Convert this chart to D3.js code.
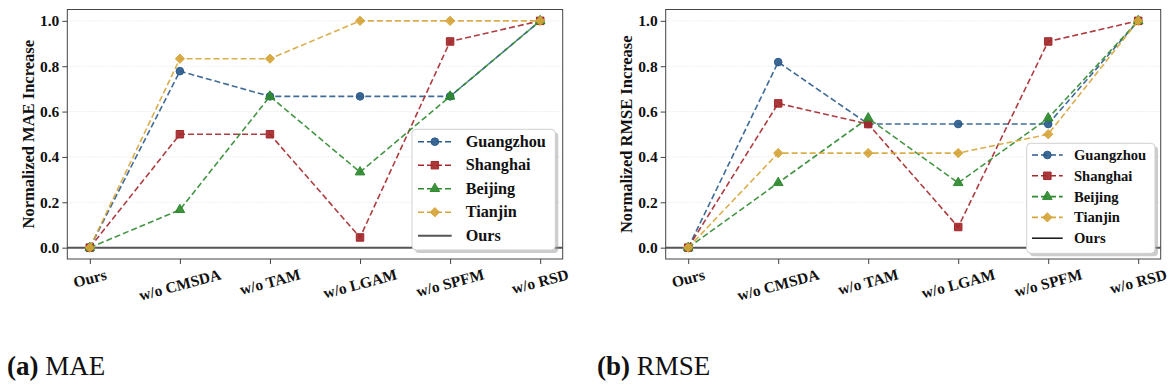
<!DOCTYPE html>
<html>
<head>
<meta charset="utf-8">
<script src="https://cdn.jsdelivr.net/npm/d3@7"></script>
<style>
  body { margin: 0; background: #fff; }
  text { font-family: "Liberation Serif", "Times New Roman", serif; }
</style>
</head>
<body>
<svg id="chart" width="1176" height="388"></svg>
<script>
// ablation variants (x axis)
var variants = ["Ours", "w/o CMSDA", "w/o TAM", "w/o LGAM", "w/o SPFM", "w/o RSD"];
var cities = ["Guangzhou", "Shanghai", "Beijing", "Tianjin"];
var yTicks = [0.0, 0.2, 0.4, 0.6, 0.8, 1.0];

// normalized MAE increase, one array per city
var maeGuangzhou = [0, 0.778, 0.667, 0.667, 0.667, 1.0];
var maeShanghai  = [0, 0.5, 0.5, 0.045, 0.909, 1.0];
var maeBeijing   = [0, 0.167, 0.667, 0.333, 0.667, 1.0];
var maeTianjin   = [0, 0.833, 0.833, 1.0, 1.0, 1.0];

// normalized RMSE increase
var rmseGuangzhou = [0, 0.818, 0.545, 0.545, 0.545, 1.0];
var rmseShanghai  = [0, 0.636, 0.545, 0.091, 0.909, 1.0];
var rmseBeijing   = [0, 0.286, 0.571, 0.286, 0.571, 1.0];
var rmseTianjin   = [0, 0.417, 0.417, 0.417, 0.5, 1.0];

var colors = {Guangzhou: "#2b5b8c", Shanghai: "#a3282b", Beijing: "#2f8a2f", Tianjin: "#d6a53a"};
var markers = {Guangzhou: "circle", Shanghai: "square", Beijing: "triangle", Tianjin: "diamond"};

var svg = d3.select("#chart");

function markerPath(kind) {
    if (kind == "circle") return d3.symbol().type(d3.symbolCircle).size(46)();
    if (kind == "square") return d3.symbol().type(d3.symbolSquare).size(56)();
    if (kind == "triangle") return d3.symbol().type(d3.symbolTriangle).size(40)();
    // matplotlib 'D' = rotated square
    var s = 4.6;
    return "M0," + (-s) + "L" + s + ",0L0," + s + "L" + (-s) + ",0Z";
}

function drawMarker(g, kind, x, y, col) {
    g.append("path")
        .attr("d", markerPath(kind))
        .attr("transform", "translate(" + x + "," + y + ")")
        .attr("fill", col)
        .attr("fill-opacity", 0.92)
        .attr("stroke", col)
        .attr("stroke-width", 1);
}

function drawPanel(opt) {
    var g = svg.append("g");
    var x = d3.scalePoint().domain(variants).range([opt.left, opt.right]).padding(0.25);
    var y = d3.scaleLinear().domain([-0.05, 1.05]).range([opt.bottom, opt.top]);

    // grid
    g.append("g").selectAll("line").data(yTicks).enter().append("line")
        .attr("x1", opt.left).attr("x2", opt.right)
        .attr("y1", function(d) { return y(d); })
        .attr("y2", function(d) { return y(d); })
        .attr("stroke", "#d8d8d8").attr("stroke-width", 0.8)
        .attr("stroke-dasharray", "1,2");

    // Ours baseline
    g.append("line")
        .attr("x1", opt.left).attr("x2", opt.right)
        .attr("y1", y(0)).attr("y2", y(0))
        .attr("stroke", "#555").attr("stroke-width", 2);

    var line = d3.line()
        .x(function(d, i) { return x(variants[i]); })
        .y(function(d) { return y(d); });

    cities.forEach(function(c) {
        var vals = opt.series[c];
        g.append("path")
            .attr("d", line(vals))
            .attr("fill", "none")
            .attr("stroke", colors[c])
            .attr("stroke-opacity", 0.9)
            .attr("stroke-width", 1.6)
            .attr("stroke-dasharray", "6,3");
        vals.forEach(function(v, i) {
            drawMarker(g, markers[c], x(variants[i]), y(v), colors[c]);
        });
    });

    // frame
    g.append("rect")
        .attr("x", opt.left).attr("y", opt.top)
        .attr("width", opt.right - opt.left).attr("height", opt.bottom - opt.top)
        .attr("fill", "none").attr("stroke", "#444").attr("stroke-width", 1);

    // y axis
    var yAxis = g.append("g")
        .attr("transform", "translate(" + opt.left + ",0)")
        .call(d3.axisLeft(y).tickValues(yTicks).tickFormat(d3.format(".1f")).tickSize(5).tickPadding(3));
    yAxis.select(".domain").remove();
    yAxis.selectAll("line").attr("stroke", "#444");
    yAxis.selectAll("text")
        .attr("font-family", "Liberation Serif")
        .attr("font-weight", "bold")
        .attr("font-size", 15.5)
        .attr("fill", "#111");

    // x axis
    var xAxis = g.append("g")
        .attr("transform", "translate(0," + opt.bottom + ")")
        .call(d3.axisBottom(x).tickSize(5).tickFormat(""));
    xAxis.select(".domain").remove();
    xAxis.selectAll("line").attr("stroke", "#444");

    var ang = 15 * Math.PI / 180;
    variants.forEach(function(v) {
        var t = g.append("text")
            .attr("font-weight", "bold")
            .attr("font-size", 15.5)
            .attr("fill", "#111")
            .attr("text-anchor", "middle")
            .attr("dominant-baseline", "central")
            .text(v);
        var L = t.node().getComputedTextLength();
        var h = 14;
        var cy = opt.bottom + 8 + (L * Math.sin(ang) + h * Math.cos(ang)) / 2;
        t.attr("transform", "translate(" + x(v) + "," + cy + ") rotate(-15)");
    });

    // y label
    g.append("text")
        .attr("transform", "translate(" + opt.labelX + "," + y(0.5) + ") rotate(-90)")
        .attr("text-anchor", "middle")
        .attr("dominant-baseline", "central")
        .attr("font-weight", "bold")
        .attr("font-size", opt.labelSize)
        .attr("fill", "#111")
        .text(opt.ylabel);

    // legend
    var lg = opt.legend;
    var lgG = g.append("g").attr("transform", "translate(" + lg.x + "," + lg.y + ")");
    lgG.append("rect")
        .attr("x", 3).attr("y", 3).attr("width", lg.w).attr("height", lg.h)
        .attr("rx", 4).attr("fill", "#999").attr("fill-opacity", 0.5);
    lgG.append("rect")
        .attr("width", lg.w).attr("height", lg.h)
        .attr("rx", 4).attr("fill", "#fff").attr("stroke", "#d0d0d0").attr("stroke-width", 1);
    var entries = cities.concat(["Ours"]);
    entries.forEach(function(c, i) {
        var ey = lg.first + i * lg.step;
        var x0 = lg.pad, x1 = lg.pad + lg.len;
        if (c == "Ours") {
            lgG.append("line").attr("x1", x0).attr("x2", x1).attr("y1", ey).attr("y2", ey)
                .attr("stroke", opt.oursLegend).attr("stroke-width", lg.oursW);
        } else {
            lgG.append("line").attr("x1", x0).attr("x2", x1).attr("y1", ey).attr("y2", ey)
                .attr("stroke", colors[c]).attr("stroke-width", 1.6)
                .attr("stroke-dasharray", "6,3");
            drawMarker(lgG, markers[c], (x0 + x1) / 2, ey, colors[c]);
        }
        lgG.append("text")
            .attr("x", lg.textX).attr("y", ey)
            .attr("dominant-baseline", "central")
            .attr("font-weight", "bold")
            .attr("font-size", lg.fontSize)
            .attr("fill", "#111")
            .text(c);
    });
}

drawPanel({
    left: 67.3, right: 562.7, top: 9.5, bottom: 259,
    series: {Guangzhou: maeGuangzhou, Shanghai: maeShanghai, Beijing: maeBeijing, Tianjin: maeTianjin},
    ylabel: "Normalized MAE Increase", labelX: 28, labelSize: 16.5,
    oursLegend: "#555",
    legend: {x: 412, y: 129.3, w: 143.3, h: 120.7, first: 12.4, step: 23.5, pad: 6, len: 33.7,
             textX: 53.7, fontSize: 16.2, oursW: 2}
});

drawPanel({
    left: 665.7, right: 1160.7, top: 9.5, bottom: 259,
    series: {Guangzhou: rmseGuangzhou, Shanghai: rmseShanghai, Beijing: rmseBeijing, Tianjin: rmseTianjin},
    ylabel: "Normalized RMSE Increase", labelX: 626, labelSize: 16.5,
    oursLegend: "#111",
    legend: {x: 1026.7, y: 143.3, w: 128.3, h: 110, first: 11.7, step: 20.8, pad: 5.3, len: 30.7,
             textX: 47.3, fontSize: 14.6, oursW: 1.5}
});

// sub-captions
var captions = [{x: 7, tag: "(a)", name: "MAE"}, {x: 597, tag: "(b)", name: "RMSE"}];
captions.forEach(function(c) {
    var t = svg.append("text")
        .attr("x", c.x).attr("y", 375)
        .attr("font-size", 27)
        .attr("fill", "#111");
    t.append("tspan").attr("font-weight", "bold").text(c.tag);
    t.append("tspan").text(" " + c.name);
});
</script>
</body>
</html>
